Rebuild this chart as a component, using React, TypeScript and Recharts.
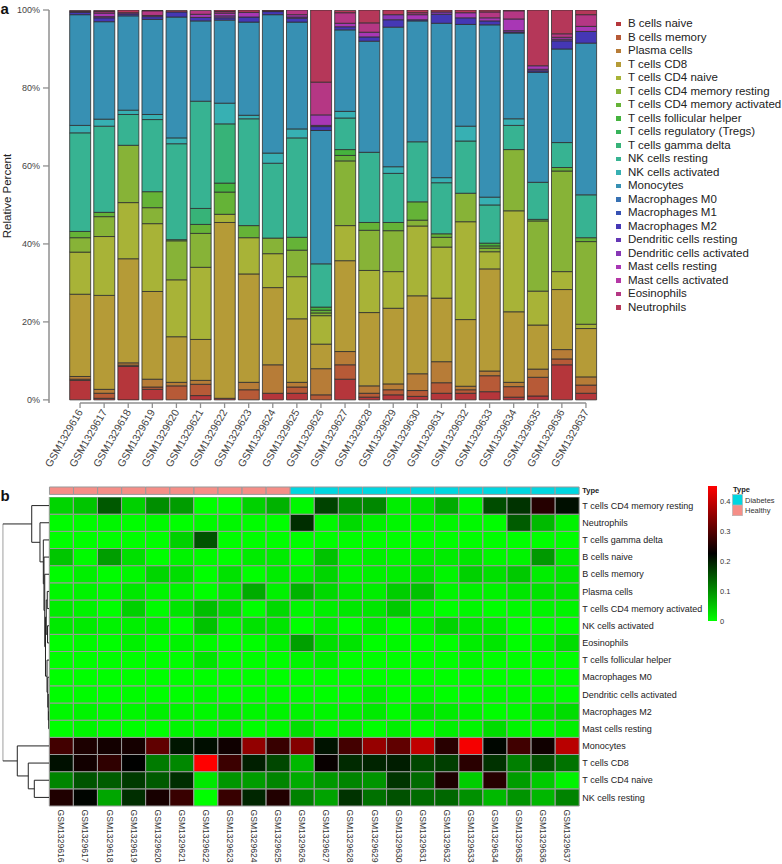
import React from 'react';
import { BarChart, Bar, XAxis, YAxis, Cell, Legend, ReferenceLine, LineChart, Line } from 'recharts';

// ---------------- DATA ----------------
const samples = [
  'GSM1329616', 'GSM1329617', 'GSM1329618', 'GSM1329619', 'GSM1329620', 'GSM1329621',
  'GSM1329622', 'GSM1329623', 'GSM1329624', 'GSM1329625', 'GSM1329626', 'GSM1329627',
  'GSM1329628', 'GSM1329629', 'GSM1329630', 'GSM1329631', 'GSM1329632', 'GSM1329633',
  'GSM1329634', 'GSM1329635', 'GSM1329636', 'GSM1329637',
];
const sampleGroups = [
  'Healthy', 'Healthy', 'Healthy', 'Healthy', 'Healthy', 'Healthy', 'Healthy', 'Healthy', 'Healthy', 'Healthy',
  'Diabetes', 'Diabetes', 'Diabetes', 'Diabetes', 'Diabetes', 'Diabetes', 'Diabetes', 'Diabetes', 'Diabetes',
  'Diabetes', 'Diabetes', 'Diabetes',
];
const groupNames = ['Diabetes', 'Healthy'];

// relative percent per sample (one array per cell type)
const bCellsNaive = [5.0, 0.4, 8.6, 2.7, 0.0, 1.1, 0.4, 0.0, 1.7, 1.7, 0.0, 5.3, 0.7, 1.3, 0.9, 1.7, 1.7, 2.1, 0.7, 1.0, 9.0, 1.7];
const bCellsMemory = [0.3, 1.3, 0.3, 0.6, 3.6, 2.9, 0.0, 2.6, 0.0, 1.6, 1.3, 3.7, 1.0, 1.3, 1.5, 2.7, 0.9, 4.1, 2.7, 4.8, 1.5, 2.1];
const plasmaCells = [0.7, 1.0, 0.6, 2.0, 0.9, 1.0, 0.0, 1.9, 7.3, 1.2, 6.7, 3.4, 1.9, 1.5, 4.3, 5.4, 0.9, 1.2, 1.1, 2.1, 2.4, 2.1];
const tCellsCD8 = [21.1, 24.1, 26.7, 22.5, 11.7, 10.5, 45.1, 27.8, 19.8, 16.3, 6.3, 23.3, 18.8, 19.4, 20.0, 16.3, 17.1, 26.2, 18.1, 11.3, 15.4, 12.4];
const tCellsCD4Naive = [10.8, 15.1, 14.4, 17.4, 14.6, 18.5, 2.1, 9.3, 8.7, 10.8, 7.3, 9.0, 10.8, 9.4, 17.9, 13.1, 25.1, 4.4, 25.9, 8.7, 4.6, 1.1];
const tCellsCD4MemResting = [3.7, 5.1, 14.7, 4.1, 10.0, 8.7, 0.0, 0.0, 4.0, 6.8, 0.7, 16.6, 10.3, 10.5, 1.5, 2.5, 7.3, 0.9, 15.7, 18.0, 25.8, 21.2];
const tCellsCD4MemActivated = [1.6, 1.1, 0.0, 4.1, 0.3, 2.3, 5.7, 3.1, 0.0, 3.3, 0.7, 1.4, 2.0, 2.1, 4.7, 0.9, 0.0, 0.6, 0.0, 0.4, 0.9, 1.0];
const tCellsFollicularHelper = [0, 0, 0, 0, 0, 0, 2.3, 0, 0, 0, 0.8, 1.5, 0, 0, 0, 0, 0, 0.7, 0, 0, 0, 0];
const tCellsRegulatory = [0, 0, 0, 0, 0, 0, 0, 0, 0, 0, 0, 0, 0, 0, 0, 0, 0, 0, 0, 0, 0, 0];
const tCellsGammaDelta = [0, 0, 0, 0, 0, 4.1, 15.2, 0, 0, 0, 0, 0, 0, 0, 0, 0, 0, 0, 0, 0, 0, 0];
const nkCellsResting = [25.3, 22.1, 7.9, 18.5, 24.6, 27.5, 0.0, 27.4, 19.2, 25.5, 11.1, 8.1, 18.0, 12.6, 15.4, 13.1, 13.4, 9.8, 6.2, 9.5, 6.4, 11.0];
const nkCellsActivated = [1.9, 1.8, 1.1, 1.3, 1.5, 0.0, 5.3, 0.9, 2.6, 2.3, 0.0, 1.7, 0.0, 1.7, 0.0, 1.3, 3.8, 2.0, 1.7, 0.0, 0.0, 0.0];
const monocytes = [28.4, 25.0, 24.2, 24.4, 31.0, 20.6, 21.3, 23.9, 35.5, 27.4, 34.2, 20.9, 28.5, 35.8, 31.0, 39.6, 26.1, 44.2, 22.0, 28.2, 24.0, 38.9];
const macrophagesM0 = [0, 0, 0, 0, 0, 0, 0, 0, 0, 0, 0, 0, 0, 0, 0, 0, 0, 0, 0, 0, 0, 0];
const macrophagesM1 = [0, 0, 0, 0, 0, 0, 0, 0, 0, 0, 0, 0, 0, 0, 0, 0, 0, 0, 0, 0, 0, 0];
const macrophagesM2 = [0.6, 1.0, 0.5, 0.7, 1.3, 0.9, 0.6, 1.3, 0.8, 1.0, 1.0, 0.8, 1.1, 1.9, 0.3, 2.3, 1.7, 1.0, 0.2, 0.4, 2.1, 3.0];
const dendriticResting = [0, 0, 0, 0, 0, 0, 0, 0, 0, 0, 0, 0, 0, 0, 0, 0, 0, 0, 0, 0, 0, 0];
const dendriticActivated = [0.2, 0.3, 0, 0.3, 0, 0, 0.5, 0, 0.2, 0.3, 0.3, 0, 0, 1.3, 0, 0.6, 0, 0, 0.4, 0.4, 0.4, 0];
const mastResting = [0, 0.9, 0.3, 0, 0, 0.8, 0.7, 1.2, 0, 0.6, 2.7, 0.9, 1.2, 0, 1.3, 0, 1.3, 0.8, 3.0, 0.9, 0.5, 1.3];
const mastActivated = [0, 0, 0, 0, 0, 0, 0, 0, 0, 0, 0, 0, 0, 0, 0, 0, 0, 0, 0, 0, 0, 0];
const eosinophils = [0, 0.4, 0, 1.2, 0, 1.0, 0.4, 0, 0, 1.2, 8.4, 2.7, 2.4, 0, 0.5, 0, 0, 1.5, 2.1, 0, 0.9, 3.0];
const neutrophils = [0.3, 0.3, 0.8, 0.1, 0.4, 0, 0.4, 0.6, 0.2, 0, 18.5, 0.6, 3.3, 1.2, 0.7, 0.6, 0.8, 0.5, 0.2, 14.4, 6.1, 1.2];

const cellTypes = [
  'B cells naive', 'B cells memory', 'Plasma cells', 'T cells CD8', 'T cells CD4 naive',
  'T cells CD4 memory resting', 'T cells CD4 memory activated', 'T cells follicular helper',
  'T cells regulatory (Tregs)', 'T cells gamma delta', 'NK cells resting', 'NK cells activated',
  'Monocytes', 'Macrophages M0', 'Macrophages M1', 'Macrophages M2', 'Dendritic cells resting',
  'Dendritic cells activated', 'Mast cells resting', 'Mast cells activated', 'Eosinophils', 'Neutrophils',
];
const cellValues = [
  bCellsNaive, bCellsMemory, plasmaCells, tCellsCD8, tCellsCD4Naive, tCellsCD4MemResting,
  tCellsCD4MemActivated, tCellsFollicularHelper, tCellsRegulatory, tCellsGammaDelta, nkCellsResting,
  nkCellsActivated, monocytes, macrophagesM0, macrophagesM1, macrophagesM2, dendriticResting,
  dendriticActivated, mastResting, mastActivated, eosinophils, neutrophils,
];

const percentTicks = [0, 20, 40, 60, 80, 100];

// heatmap rows, top to bottom
const heatRowNames = [
  'T cells CD4 memory resting', 'Neutrophils', 'T cells gamma delta', 'B cells naive', 'B cells memory',
  'Plasma cells', 'T cells CD4 memory activated', 'NK cells activated', 'Eosinophils',
  'T cells follicular helper', 'Macrophages M0', 'Dendritic cells activated', 'Macrophages M2',
  'Mast cells resting', 'Monocytes', 'T cells CD8', 'T cells CD4 naive', 'NK cells resting',
];
const heatLegendTicks = [0, 0.1, 0.2, 0.3, 0.4];

// row dendrogram (hclust style merges: negative = leaf row, positive = earlier merge)
const dendroLeft = [-13, -12, -11, -10, -6, -8, 5, 7, -5, -4, -3, -2, -1, -17, -16, -15, 13];
const dendroRight = [-14, 1, 2, 3, -7, -9, 6, 4, 8, 9, 10, 11, 12, -18, 14, 15, 16];
const dendroHeight = [0.012, 0.02, 0.03, 0.045, 0.04, 0.035, 0.06, 0.075, 0.09, 0.105, 0.118, 0.184, 0.347, 0.296, 0.415, 0.632, 0.92];

// ---------------- STYLE ----------------
const cellColors = [
  '#b5363b', '#b75a37', '#b77c37', '#b59b37', '#a8b337', '#87b337', '#65b337', '#45b33e',
  '#37b35a', '#37b378', '#37b392', '#37b0b3', '#3790b3', '#3771b3', '#3752b3', '#4537b5',
  '#6437b5', '#8737b5', '#a837b5', '#b537a6', '#b53784', '#b53759',
];
const groupColors = ['#00D6E0', '#F58E87'];
const FONT = "'Liberation Sans', Arial, Helvetica, sans-serif";
const AXIS_GRAY = '#8f8f8f';

// ---------------- DERIVED TABLES ----------------
const barData = samples.map((s, j) => {
  const row: any = { sample: s };
  cellValues.forEach((vals, i) => {
    row[`k${i}`] = vals[j];
  });
  return row;
});

const heatBottomUp = [...heatRowNames].reverse();
const heatData = samples.map((s) => {
  const row: any = { sample: s };
  heatBottomUp.forEach((_, k) => {
    row[`u${k}`] = 1;
  });
  return row;
});
const heatTickPositions = heatBottomUp.map((_, k) => k + 0.5);
const heatValue = (name: string, j: number) => cellValues[cellTypes.indexOf(name)][j] / 100;
const heatMax = Math.max(...heatRowNames.flatMap((n) => samples.map((_, j) => heatValue(n, j))));

function heatColor(v: number) {
  const mid = heatMax / 2;
  if (v <= mid) {
    const g = Math.round(255 * (1 - v / mid));
    return `rgb(0,${g},0)`;
  }
  const r = Math.round((255 * (v - mid)) / (heatMax - mid));
  return `rgb(${r},0,0)`;
}

const annData = samples.map((s, j) => ({ sample: s, group: sampleGroups[j], band: 1 }));
const keyData = [{ k: 'key', v: heatMax }];

function nodePos(ref: number): number {
  if (ref < 0) return -ref - 0.5;
  const m = ref - 1;
  return (nodePos(dendroLeft[m]) + nodePos(dendroRight[m])) / 2;
}
function nodeH(ref: number) {
  return ref < 0 ? 0 : dendroHeight[ref - 1];
}
const dendroLinks = dendroHeight.map((h, m) => {
  const l = dendroLeft[m];
  const r = dendroRight[m];
  return [
    { h: nodeH(l), pos: nodePos(l) },
    { h, pos: nodePos(l) },
    { h, pos: nodePos(r) },
    { h: nodeH(r), pos: nodePos(r) },
  ];
});
const dendroMax = Math.max(...dendroHeight);

// ---------------- TICKS ----------------
const BarTick = (props: any) => {
  const { x, y, payload } = props;
  return (
    <text x={x} y={y} dy="0.35em" textAnchor="end" transform={`rotate(-60 ${x} ${y})`} fontSize={10.5} fill="#444" fontFamily={FONT}>
      {payload.value}
    </text>
  );
};
const HeatColTick = (props: any) => {
  const { x, y, payload } = props;
  return (
    <text x={x} y={y} dy="0.35em" textAnchor="start" transform={`rotate(90 ${x} ${y})`} fontSize={8.6} fill="#333" fontFamily={FONT}>
      {payload.value}
    </text>
  );
};
const TypeTick = (props: any) => {
  const { x, y } = props;
  return (
    <text x={x} y={y} dy="0.35em" textAnchor="start" fontSize={7.5} fontWeight="bold" fill="#222" fontFamily={FONT}>
      Type
    </text>
  );
};

const LegendList = () => (
  <div style={{ fontFamily: FONT }}>
    {cellTypes.map((name, i) => (
      <div key={name} style={{ display: 'flex', alignItems: 'center', height: 13.5 }}>
        <span style={{ display: 'inline-block', flexShrink: 0, width: 4.5, height: 4.5, background: cellColors[i], marginLeft: 4, marginRight: 7.5 }} />
        <span style={{ fontSize: 11.5, color: '#222', whiteSpace: 'nowrap', lineHeight: '13.5px' }}>{name}</span>
      </div>
    ))}
  </div>
);

export default function App() {
  return (
    <div style={{ position: 'absolute', left: 0, top: 0, width: 782, height: 864, background: '#fff', fontFamily: FONT, overflow: 'hidden' }}>
      <svg width={782} height={864} style={{ position: 'absolute', left: 0, top: 0 }}>
        <text x={0.5} y={14} fontSize={15} fontWeight="bold" fill="#111" fontFamily={FONT}>a</text>
        <text x={0.5} y={500.5} fontSize={15} fontWeight="bold" fill="#111" fontFamily={FONT}>b</text>
        <text x={10.5} y={196} transform="rotate(-90 10.5 196)" textAnchor="middle" fontSize={11.5} fill="#222" fontFamily={FONT}>
          Relative Percent
        </text>
        <text x={733} y={492} fontSize={7.5} fontWeight="bold" fill="#222" fontFamily={FONT}>Type</text>
        {groupNames.map((g, i) => (
          <g key={g}>
            <rect x={732.5} y={494.5 + i * 10.6} width={10} height={10.6} fill={groupColors[i]} stroke="#b0b0b0" strokeWidth={0.6} />
            <text x={745} y={502.5 + i * 10.6} fontSize={7.5} fill="#333" fontFamily={FONT}>{g}</text>
          </g>
        ))}
      </svg>

      {/* panel a: stacked bars */}
      <div style={{ position: 'absolute', left: 0, top: 0 }}>
        <BarChart width={782} height={473} data={barData} margin={{ top: 10, right: 184, bottom: 0, left: 0 }} barCategoryGap="7%">
          <XAxis
            dataKey="sample"
            interval={0}
            height={70}
            padding={{ left: 19, right: 0 }}
            axisLine={false}
            tickLine={{ stroke: AXIS_GRAY, strokeWidth: 1.3 }}
            tickSize={5}
            tickMargin={2}
            tick={(p: any) => <BarTick {...p} />}
          />
          <YAxis
            type="number"
            width={49}
            domain={[-0.8, 100]}
            allowDataOverflow
            ticks={percentTicks}
            tickFormatter={(v: number) => `${v}%`}
            axisLine={{ stroke: AXIS_GRAY, strokeWidth: 1.5 }}
            tickLine={{ stroke: AXIS_GRAY, strokeWidth: 1.3 }}
            tickSize={6}
            tickMargin={3}
            tick={{ fontSize: 9, fill: '#444' }}
          />
          <ReferenceLine
            segment={[{ x: samples[0], y: -0.8 }, { x: samples[samples.length - 1], y: -0.8 }]}
            stroke={AXIS_GRAY}
            strokeWidth={1.5}
            ifOverflow="visible"
          />
          {cellTypes.map((name, i) => (
            <Bar key={name} dataKey={`k${i}`} name={name} stackId="a" fill={cellColors[i]} stroke="#2e2e2e" strokeWidth={0.8} isAnimationActive={false} />
          ))}
          <Legend layout="vertical" align="center" verticalAlign="middle" wrapperStyle={{ left: 612, top: 17, width: 176 }} content={() => <LegendList />} />
        </BarChart>
      </div>

      {/* panel b: annotation row */}
      <div style={{ position: 'absolute', left: 0, top: 480.7 }}>
        <BarChart width={782} height={19.4} data={annData} margin={{ top: 6, right: 0, bottom: 6, left: 49.3 }} barCategoryGap={0}>
          <XAxis dataKey="sample" hide />
          <YAxis
            orientation="right"
            type="number"
            width={202.7}
            domain={[0, 1]}
            ticks={[0.5]}
            tickLine={false}
            axisLine={false}
            tickSize={0}
            tickMargin={3}
            tick={(p: any) => <TypeTick {...p} />}
          />
          <Bar dataKey="band" stroke="#9a9a9a" strokeWidth={1} isAnimationActive={false}>
            {annData.map((d) => (
              <Cell key={d.sample} fill={groupColors[groupNames.indexOf(d.group)]} />
            ))}
          </Bar>
        </BarChart>
      </div>

      {/* panel b: heatmap */}
      <div style={{ position: 'absolute', left: 0, top: 496.5 }}>
        <BarChart width={782} height={367.5} data={heatData} margin={{ top: 0, right: 0, bottom: 0, left: 49.3 }} barCategoryGap={0} barGap={0}>
          <XAxis
            dataKey="sample"
            interval={0}
            height={58.5}
            tickLine={false}
            axisLine={false}
            tickSize={0}
            tickMargin={3.5}
            tick={(p: any) => <HeatColTick {...p} />}
          />
          <YAxis
            orientation="right"
            type="number"
            width={202.7}
            domain={[0, heatBottomUp.length]}
            ticks={heatTickPositions}
            tickFormatter={(v: number) => heatBottomUp[Math.floor(v)]}
            tickLine={false}
            axisLine={false}
            tickSize={0}
            tickMargin={3}
            tick={{ fontSize: 9, fill: '#222' }}
          />
          {heatBottomUp.map((name, k) => (
            <Bar key={name} dataKey={`u${k}`} stackId="h" stroke="#9a9a9a" strokeWidth={1} isAnimationActive={false}>
              {samples.map((s, j) => (
                <Cell key={s} fill={heatColor(heatValue(name, j))} />
              ))}
            </Bar>
          ))}
        </BarChart>
      </div>

      {/* panel b: row dendrogram */}
      <div style={{ position: 'absolute', left: 0, top: 496.5 }}>
        <LineChart width={49.3} height={309} margin={{ top: 0, right: 0, bottom: 0, left: 2.7 }}>
          <XAxis type="number" dataKey="h" domain={[0, dendroMax]} reversed hide allowDataOverflow />
          <YAxis type="number" dataKey="pos" domain={[0, heatRowNames.length]} reversed hide allowDataOverflow />
          {dendroLinks.map((pts, m) => (
            <Line key={m} data={pts} dataKey="pos" type="linear" stroke="#222" strokeWidth={1} dot={false} activeDot={false} isAnimationActive={false} />
          ))}
        </LineChart>
      </div>

      {/* panel b: color key */}
      <div style={{ position: 'absolute', left: 708.3, top: 480 }}>
        <BarChart width={29} height={147} data={keyData} margin={{ top: 6, right: 0, bottom: 6, left: 0 }} barCategoryGap={0}>
          <defs>
            <linearGradient id="heatGrad" x1="0" y1="1" x2="0" y2="0">
              <stop offset="0%" stopColor="#00ff00" />
              <stop offset="50%" stopColor="#000000" />
              <stop offset="100%" stopColor="#ff0000" />
            </linearGradient>
          </defs>
          <XAxis dataKey="k" hide />
          <YAxis
            orientation="right"
            type="number"
            width={20}
            domain={[0, heatMax]}
            allowDataOverflow
            ticks={heatLegendTicks}
            interval={0}
            tickLine={false}
            axisLine={false}
            tickSize={0}
            tickMargin={3}
            tick={{ fontSize: 7.5, fill: '#333' }}
          />
          <Bar dataKey="v" fill="url(#heatGrad)" isAnimationActive={false} />
        </BarChart>
      </div>
    </div>
  );
}
